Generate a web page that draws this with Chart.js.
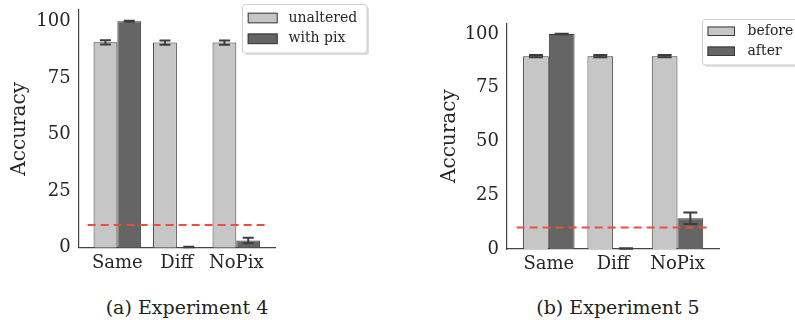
<!DOCTYPE html>
<html>
<head>
<meta charset="utf-8">
<script src="https://cdn.jsdelivr.net/npm/chart.js@4"></script>
<style>
  html, body { margin: 0; padding: 0; background: #fff; }
  body { width: 795px; height: 320px; position: relative; overflow: hidden; }
  .box { position: absolute; top: 0; height: 290px; }
  .cap { position: absolute; top: 296px; font-family: "DejaVu Serif", serif; font-size: 19px; line-height: 22px; color: #222; white-space: nowrap; transform: translateX(-50%); }
</style>
</head>
<body>
<div class="box" style="left:0;width:400px"><canvas id="c1" width="400" height="290"></canvas></div>
<div class="box" style="left:400px;width:395px"><canvas id="c2" width="395" height="290"></canvas></div>
<div class="cap" style="left:187px">(a) Experiment 4</div>
<div class="cap" style="left:618px">(b) Experiment 5</div>
<script>
// ---- data ----
const categories = ['Same', 'Diff', 'NoPix'];
const yTicks = [0, 25, 50, 75, 100];
const chanceLevel = 10;

const exp4Labels = ['unaltered', 'with pix'];
const exp4Unaltered = [90.7, 90.6, 90.6];
const exp4UnalteredErr = [0.9, 0.9, 0.9];
const exp4WithPix = [100.0, 0.3, 3.2];
const exp4WithPixErr = [0.2, 0.1, 1.2];

const exp5Labels = ['before', 'after'];
const exp5Before = [89.7, 89.7, 89.7];
const exp5BeforeErr = [0.5, 0.5, 0.5];
const exp5After = [100.0, 0.2, 14.3];
const exp5AfterErr = [0.1, 0.1, 2.7];

// ---- styling ----
const FONT = '"DejaVu Serif", serif';
const TXT = '#262626';
const LIGHT = '#c6c6c6';
const DARK = '#656565';
const EDGE = '#3a3a3a';

const errorBarPlugin = {
  id: 'errorBars',
  afterDatasetsDraw(chart, args, opts) {
    const ctx = chart.ctx;
    const ys = chart.scales.y;
    ctx.save();
    ctx.strokeStyle = opts.color;
    ctx.lineWidth = opts.width;
    chart.data.datasets.forEach((ds, di) => {
      if (!ds.errors) return;
      const meta = chart.getDatasetMeta(di);
      meta.data.forEach((bar, i) => {
        const v = ds.data[i].y, e = ds.errors[i];
        const x = bar.x;
        const yT = ys.getPixelForValue(v + e), yB = ys.getPixelForValue(v - e);
        const hw = opts.cap / 2;
        ctx.beginPath();
        ctx.moveTo(x, yT); ctx.lineTo(x, yB);
        ctx.moveTo(x - hw, yT); ctx.lineTo(x + hw, yT);
        ctx.moveTo(x - hw, yB); ctx.lineTo(x + hw, yB);
        ctx.stroke();
      });
    });
    ctx.restore();
  }
};

const boxLegendPlugin = {
  id: 'boxLegend',
  afterDraw(chart, args, o) {
    const ctx = chart.ctx;
    ctx.save();
    ctx.fillStyle = 'rgba(0,0,0,0.13)';
    roundRect(ctx, o.x + 2, o.y + 2, o.w, o.h, 3); ctx.fill();
    ctx.fillStyle = '#fff';
    ctx.strokeStyle = '#cfcfcf';
    ctx.lineWidth = 1;
    roundRect(ctx, o.x, o.y, o.w, o.h, 3); ctx.fill(); ctx.stroke();
    ctx.font = o.fontSize + 'px ' + FONT;
    ctx.textBaseline = 'middle';
    ctx.textAlign = 'left';
    const bars = chart.data.datasets.filter(d => d.type !== 'line');
    bars.forEach((ds, i) => {
      const sy = o.rowY[i];
      ctx.fillStyle = ds.backgroundColor;
      ctx.strokeStyle = ds.borderColor;
      ctx.lineWidth = 1;
      ctx.fillRect(o.sx, sy, o.sw, o.sh);
      ctx.strokeRect(o.sx + 0.5, sy + 0.5, o.sw - 1, o.sh - 1);
      ctx.fillStyle = TXT;
      ctx.fillText(ds.label, o.tx, sy + o.sh / 2);
    });
    ctx.restore();
  }
};
function roundRect(ctx, x, y, w, h, r) {
  ctx.beginPath();
  ctx.moveTo(x + r, y);
  ctx.lineTo(x + w - r, y); ctx.quadraticCurveTo(x + w, y, x + w, y + r);
  ctx.lineTo(x + w, y + h - r); ctx.quadraticCurveTo(x + w, y + h, x + w - r, y + h);
  ctx.lineTo(x + r, y + h); ctx.quadraticCurveTo(x, y + h, x, y + h - r);
  ctx.lineTo(x, y + r); ctx.quadraticCurveTo(x, y, x + r, y);
  ctx.closePath();
}

function makeChart(id, labels, valsA, errA, valsB, errB, geo) {
  const toXY = arr => arr.map((v, i) => ({ x: i, y: v }));
  return new Chart(document.getElementById(id), {
    type: 'bar',
    data: {
      datasets: [
        { label: labels[0], data: toXY(valsA), errors: errA, backgroundColor: LIGHT, borderColor: EDGE, borderWidth: 1, categoryPercentage: 0.8, barPercentage: 1.0, order: 1 },
        { label: labels[1], data: toXY(valsB), errors: errB, backgroundColor: DARK, borderColor: EDGE, borderWidth: 1, categoryPercentage: 0.8, barPercentage: 1.0, order: 1 },
        { type: 'line', label: 'chance', data: [{ x: -0.5, y: chanceLevel }, { x: categories.length - 0.5, y: chanceLevel }],
          borderColor: '#e8503e', borderWidth: 2, borderDash: [8, 5], pointRadius: 0, fill: false, order: 0 }
      ]
    },
    options: {
      responsive: false,
      animation: false,
      layout: { padding: { left: geo.padL, right: geo.padR, top: geo.padT, bottom: geo.padB } },
      plugins: {
        legend: { display: false },
        tooltip: { enabled: false },
        errorBars: { color: '#3d3d3d', width: 2, cap: geo.cap },
        boxLegend: geo.legend
      },
      scales: {
        x: {
          type: 'linear',
          offset: false,
          bounds: 'data',
          min: -0.65, max: categories.length - 0.35,
          grid: { display: false, drawTicks: false, offset: false },
          border: { display: true, color: '#444', width: 1.2 },
          afterBuildTicks: s => { s.ticks = categories.map((c, i) => ({ value: i })); },
          afterFit: s => { s.height = 30; s.paddingLeft = 0; s.paddingRight = 0; s.paddingTop = 0; s.paddingBottom = 0; },
          ticks: { padding: 5, includeBounds: false, color: TXT, font: { family: FONT, size: 18 }, autoSkip: false, maxRotation: 0,
                   callback: v => categories[v] }
        },
        y: {
          min: 0, max: 105,
          grid: { display: false, drawTicks: false },
          border: { display: true, color: '#444', width: 1.2 },
          afterBuildTicks: s => { s.ticks = yTicks.map(v => ({ value: v })); },
          afterFit: s => { s.width = geo.yW; s.paddingLeft = 0; s.paddingRight = 0; s.paddingTop = 0; s.paddingBottom = 0; },
          ticks: { padding: 8, color: TXT, font: { family: FONT, size: 18 } },
          title: { display: true, text: 'Accuracy', color: TXT, font: { family: FONT, size: 20 }, padding: { top: 8, bottom: 0 } }
        }
      }
    },
    plugins: [errorBarPlugin, boxLegendPlugin]
  });
}

makeChart('c1', exp4Labels, exp4Unaltered, exp4UnalteredErr, exp4WithPix, exp4WithPixErr, {
  padL: 0, padR: 125, padT: 10, padB: 12.3, yW: 78.7, cap: 11,
  legend: { x: 242.5, y: 4.5, w: 124.5, h: 48.5, sx: 247.7, sw: 30, sh: 10.6, rowY: [12.7, 33.5], tx: 288.5, fontSize: 14 }
});
makeChart('c2', exp5Labels, exp5Before, exp5BeforeErr, exp5After, exp5AfterErr, {
  padL: 30, padR: 75.7, padT: 23.3, padB: 11, yW: 77, cap: 14,
  legend: { x: 302.5, y: 19.5, w: 110, h: 45.5, sx: 307.5, sw: 27.5, sh: 9.5, rowY: [26.5, 46.5], tx: 347.5, fontSize: 14 }
});
</script>
</body>
</html>
